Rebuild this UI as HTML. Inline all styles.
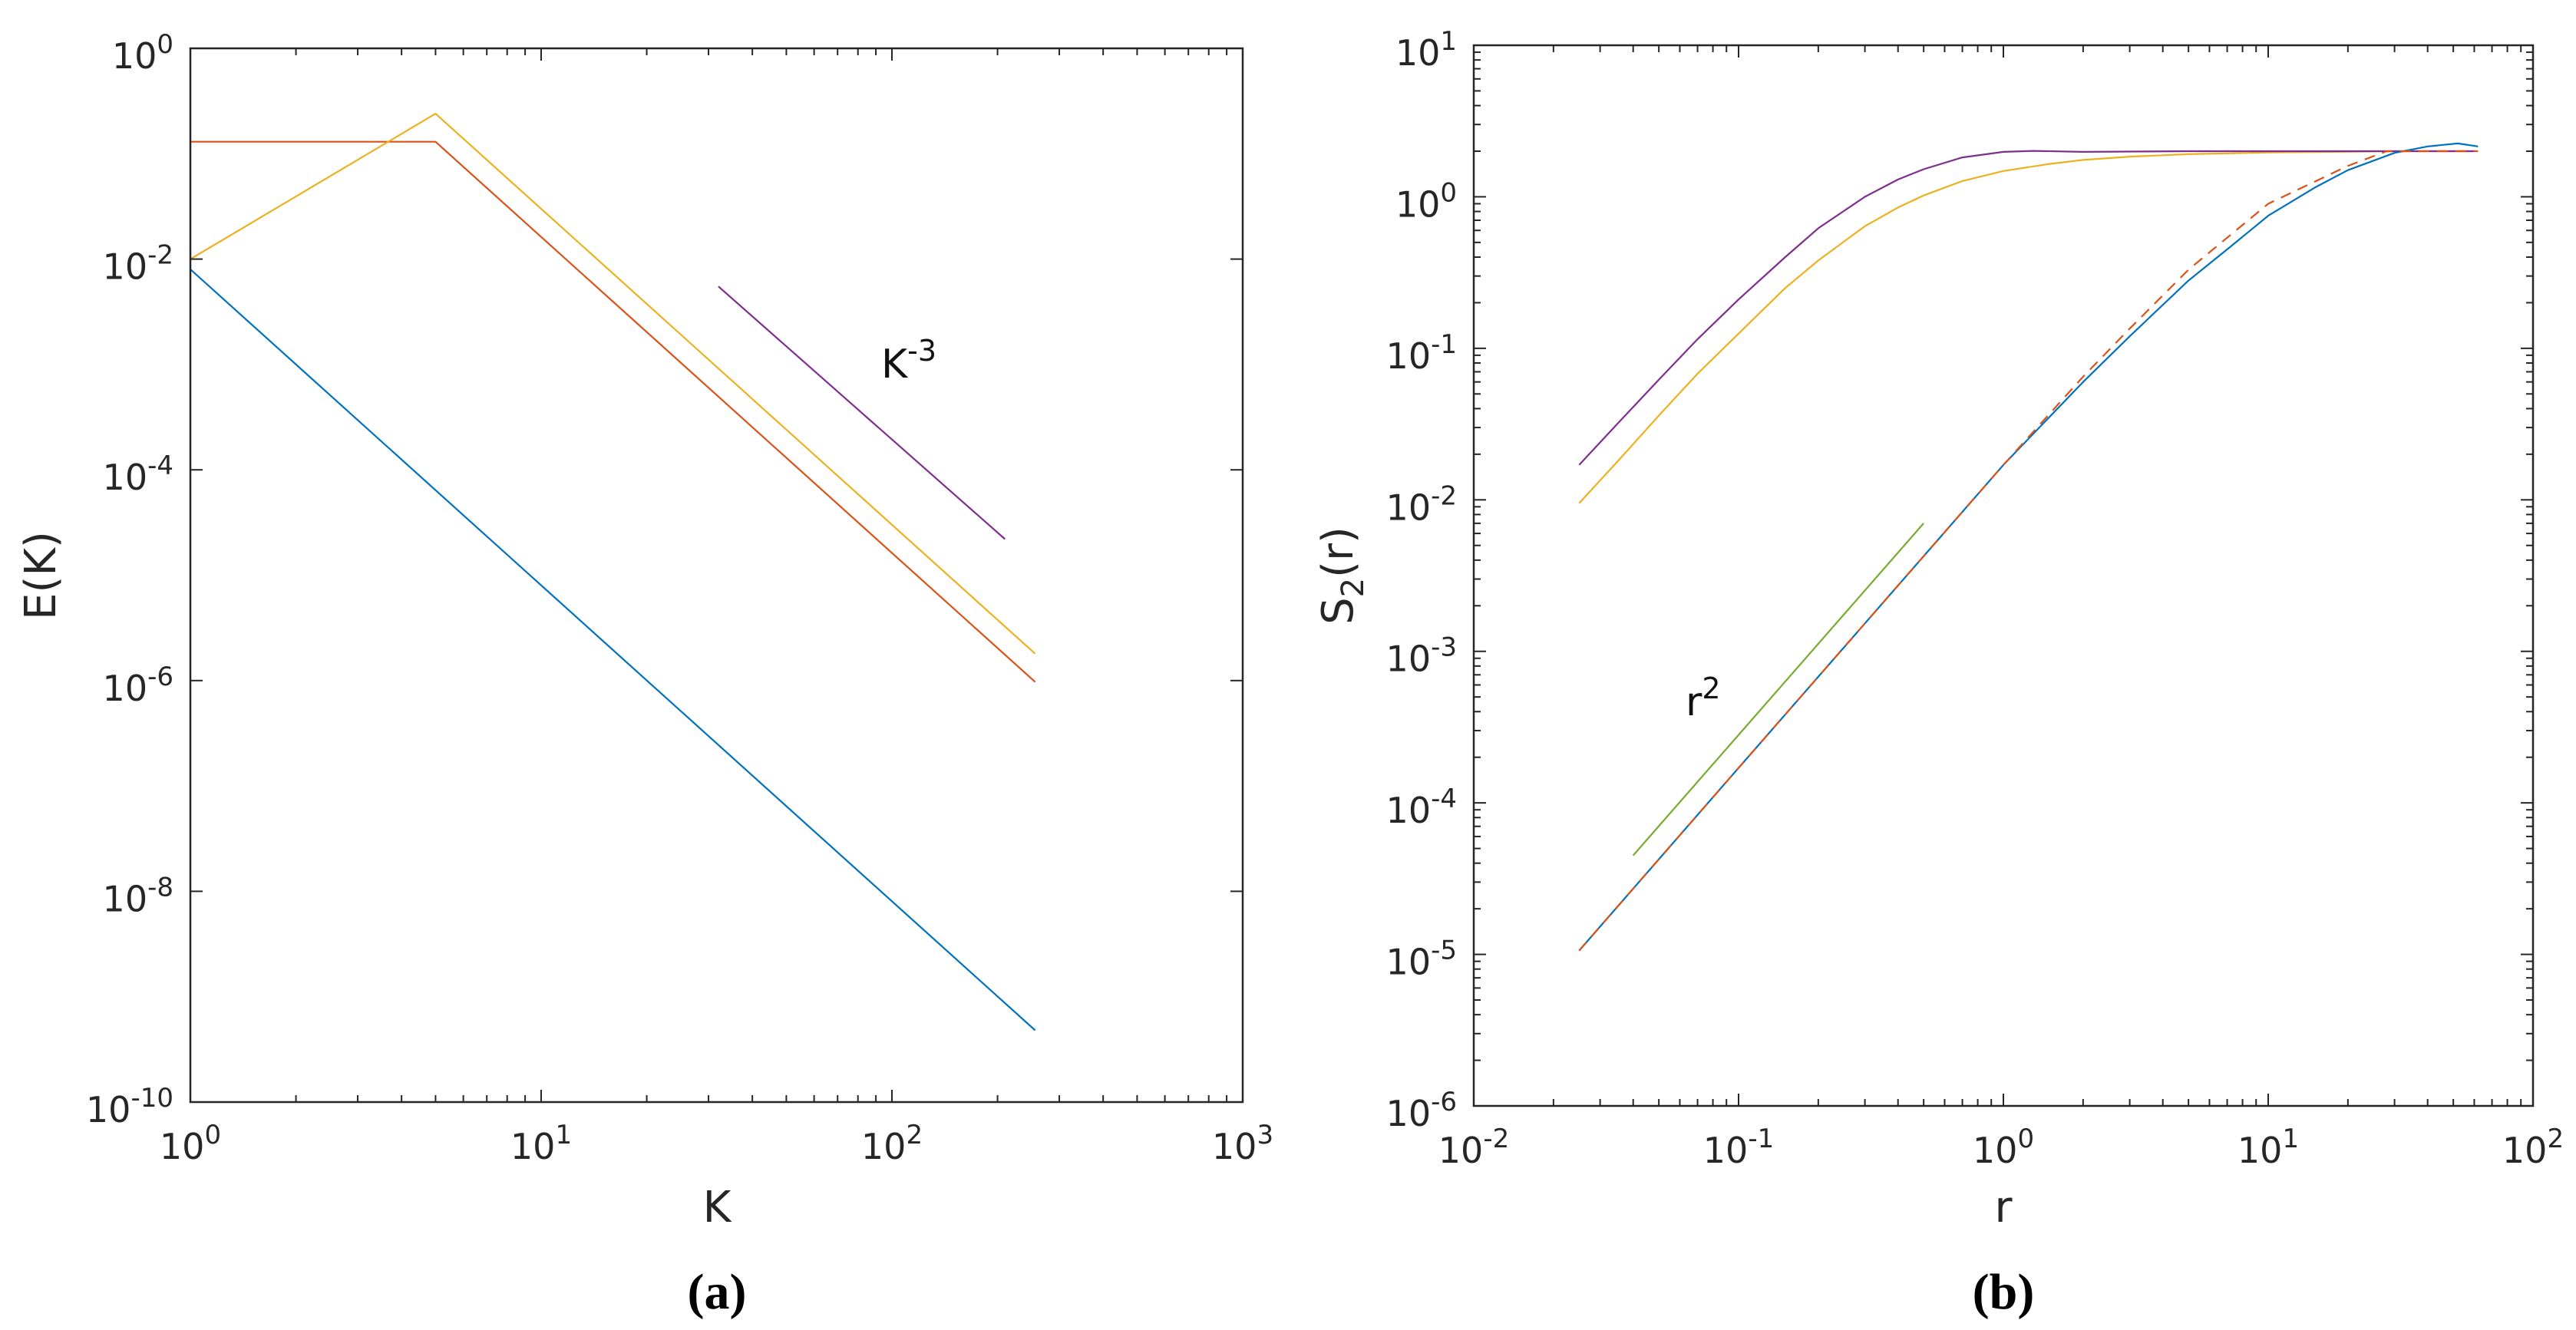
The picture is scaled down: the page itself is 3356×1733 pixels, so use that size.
<!DOCTYPE html>
<html><head><meta charset="utf-8"><style>
html,body{margin:0;padding:0;background:#fff;}
svg{display:block;font-family:"DejaVu Sans","Liberation Sans",sans-serif;}
</style></head><body>
<svg id="fig" width="3356" height="1733" viewBox="0 0 3356 1733" xmlns="http://www.w3.org/2000/svg">
<rect x="0" y="0" width="3356" height="1733" fill="#fff"/>
<g id="pa"></g>
<g id="pb"></g>
<text x="934" y="1705" font-family="Liberation Serif, serif" font-weight="bold" font-size="66" text-anchor="middle">(a)</text>
<text x="2610" y="1705" font-family="Liberation Serif, serif" font-weight="bold" font-size="66" text-anchor="middle">(b)</text>
</svg>
<script>
// Panel (a) data
const aBlueK = [1, 256];
const aBlueE = [8e-3, 4.8e-10];
const aOrangeK = [1, 5, 256];
const aOrangeE = [0.13, 0.13, 9.7e-7];
const aYellowK = [1, 5, 256];
const aYellowE = [0.01, 0.24, 1.8e-6];
const aPurpleK = [32, 210];
const aPurpleE = [5.5e-3, 2.2e-5];
const aXTicks = [0, 1, 2, 3];
const aYTicks = [-10, -8, -6, -4, -2, 0];
// Panel (b) data
const bPurpleR = [0.025, 0.035, 0.05, 0.07, 0.1, 0.15, 0.2, 0.3, 0.4, 0.5, 0.7, 1, 1.3, 2, 5, 60];
const bPurpleS = [0.017, 0.032, 0.062, 0.115, 0.21, 0.4, 0.62, 1.0, 1.3, 1.52, 1.82, 1.98, 2.01, 1.98, 2.0, 2.0];
const bYellowR = [0.025, 0.035, 0.05, 0.07, 0.1, 0.15, 0.2, 0.3, 0.4, 0.5, 0.7, 1, 1.5, 2, 3, 5, 10, 30, 60];
const bYellowS = [0.0095, 0.018, 0.036, 0.068, 0.125, 0.25, 0.38, 0.64, 0.85, 1.02, 1.27, 1.48, 1.65, 1.75, 1.84, 1.91, 1.96, 2.0, 2.0];
const bBlueR = [0.025, 0.1, 0.3, 1, 2, 3, 5, 7, 10, 15, 20, 30, 40, 52, 62];
const bBlueS = [1.06e-5, 1.7e-4, 1.53e-3, 0.017, 0.06, 0.12, 0.28, 0.45, 0.75, 1.15, 1.5, 1.95, 2.15, 2.25, 2.15];
const bOrangeR = [0.025, 0.1, 0.3, 1, 2, 3, 5, 10, 20, 28, 62];
const bOrangeS = [1.06e-5, 1.7e-4, 1.53e-3, 0.017, 0.065, 0.135, 0.33, 0.9, 1.6, 2.0, 2.0];
const bGreenR = [0.04, 0.5];
const bGreenS = [4.5e-5, 7e-3];
const bXTicks = [-2, -1, 0, 1, 2];
const bYTicks = [-6, -5, -4, -3, -2, -1, 0, 1];

const NS = "http://www.w3.org/2000/svg";
function mk(parent, tag, attrs) {
  const e = document.createElementNS(NS, tag);
  for (const k in attrs) e.setAttribute(k, attrs[k]);
  parent.appendChild(e);
  return e;
}
function axis(L, R, T, B, x0, x1, y0, y1) {
  return {
    x: v => L + (Math.log10(v) - x0) / (x1 - x0) * (R - L),
    y: v => B - (Math.log10(v) - y0) / (y1 - y0) * (B - T),
    L, R, T, B, x0, x1, y0, y1
  };
}
function drawFrame(g, ax, xt, yt, yMinor) {
  const col = "#262626";
  for (const d of xt) {
    for (let m = 1; m <= 9; m++) {
      if (d === xt[xt.length - 1] && m > 1) break;
      const px = ax.x(m * Math.pow(10, d));
      const len = m === 1 ? 16 : 9;
      const t1 = mk(g, "line", {x1: px, x2: px, y1: ax.B, y2: ax.B - len, stroke: col, "stroke-width": 2});
      
      
      const t2 = mk(g, "line", {x1: px, x2: px, y1: ax.T, y2: ax.T + len, stroke: col, "stroke-width": 2});
      
      
    }
    const tx = mk(g, "text", {x: ax.x(Math.pow(10, d)), y: ax.B + 74, "font-size": 46, "text-anchor": "middle", fill: col});
    
    
    tx.innerHTML = '10<tspan dy="-20" font-size="34">' + d + '</tspan>';
  }
  for (let i = 0; i < yt.length; i++) {
    const d = yt[i];
    const ms = (yMinor && i < yt.length - 1) ? [1,2,3,4,5,6,7,8,9] : [1];
    for (const m of ms) {
      const py = ax.y(m * Math.pow(10, d));
      const len = m === 1 ? 16 : 9;
      const t1 = mk(g, "line", {x1: ax.L, x2: ax.L + len, y1: py, y2: py, stroke: col, "stroke-width": 2});
      
      
      const t2 = mk(g, "line", {x1: ax.R, x2: ax.R - len, y1: py, y2: py, stroke: col, "stroke-width": 2});
      
      
    }
    const ty = mk(g, "text", {x: ax.L - 22, y: ax.y(Math.pow(10, d)) + 26, "font-size": 46, "text-anchor": "end", fill: col});
    
    
    ty.innerHTML = '10<tspan dy="-20" font-size="34">' + d + '</tspan>';
  }
  const fr = mk(g, "rect", {x: ax.L, y: ax.T, width: ax.R - ax.L, height: ax.B - ax.T, fill: "none", stroke: col, "stroke-width": 2.5});
  
  
}
function series(g, ax, xs, ys, color, name, dash) {
  const pts = xs.map((v, i) => ax.x(v).toFixed(1) + "," + ax.y(ys[i]).toFixed(1)).join(" ");
  const attrs = {points: pts, fill: "none", stroke: color, "stroke-width": 2.2, "stroke-linejoin": "round"};
  if (dash) attrs["stroke-dasharray"] = dash;
  const p = mk(g, "polyline", attrs);
  
  
}
const BLUE = "#0072BD", ORANGE = "#D95319", YELLOW = "#EDB120", PURPLE = "#7E2F8E", GREEN = "#77AC30";

// Panel a
const ga = document.getElementById("pa");
const axA = axis(248, 1619, 63, 1436, 0, 3, -10, 0);
series(ga, axA, aBlueK, aBlueE, BLUE, "series-blue");
series(ga, axA, aOrangeK, aOrangeE, ORANGE, "series-orange");
series(ga, axA, aYellowK, aYellowE, YELLOW, "series-yellow");
series(ga, axA, aPurpleK, aPurpleE, PURPLE, "reference-line-k-3");
drawFrame(ga, axA, aXTicks, aYTicks, false);
let t = mk(ga, "text", {x: 1148, y: 492, "font-size": 52, fill: "#111"});


t.innerHTML = 'K<tspan dy="-22" font-size="38">-3</tspan>';
t = mk(ga, "text", {x: 934, y: 1592, "font-size": 56, "text-anchor": "middle", fill: "#262626"});


t.textContent = "K";
t = mk(ga, "text", {x: 0, y: 0, "font-size": 56, "text-anchor": "middle", fill: "#262626", transform: "translate(72,750) rotate(-90)"});


t.textContent = "E(K)";

// Panel b
const gb = document.getElementById("pb");
const axB = axis(1920, 3300, 59, 1441, -2, 2, -6, 1);
series(gb, axB, bYellowR, bYellowS, YELLOW, "series-yellow");
series(gb, axB, bPurpleR, bPurpleS, PURPLE, "series-purple");
series(gb, axB, bBlueR, bBlueS, BLUE, "series-blue");
series(gb, axB, bOrangeR, bOrangeS, ORANGE, "series-orange-dashed", "14,10");
series(gb, axB, bGreenR, bGreenS, GREEN, "reference-line-r2");
drawFrame(gb, axB, bXTicks, bYTicks, true);
t = mk(gb, "text", {x: 2196, y: 932, "font-size": 52, fill: "#111"});


t.innerHTML = 'r<tspan dy="-22" font-size="38">2</tspan>';
t = mk(gb, "text", {x: 2610, y: 1592, "font-size": 56, "text-anchor": "middle", fill: "#262626"});


t.textContent = "r";
t = mk(gb, "text", {x: 0, y: 0, "font-size": 56, "text-anchor": "middle", fill: "#262626", transform: "translate(1762,750) rotate(-90)"});


t.innerHTML = 'S<tspan dy="14" font-size="40">2</tspan><tspan dy="-14">(r)</tspan>';
</script>
</body></html>
